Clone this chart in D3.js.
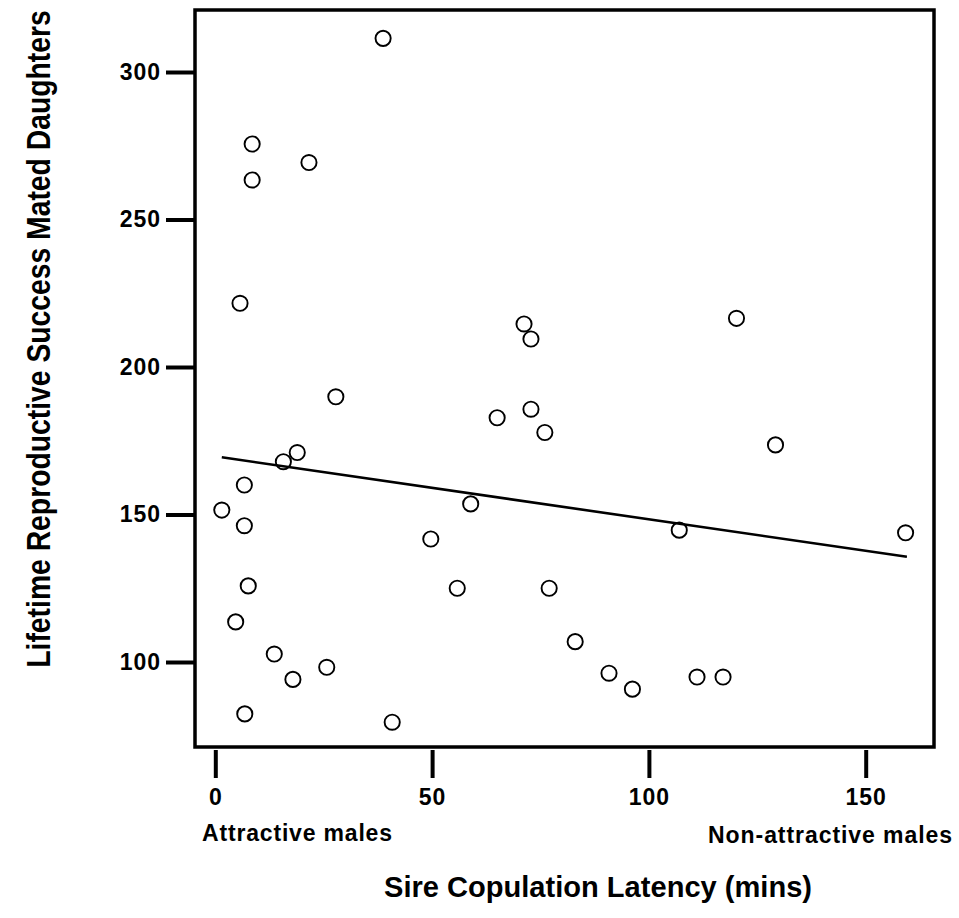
<!DOCTYPE html>
<html>
<head>
<meta charset="utf-8">
<script src="https://cdn.jsdelivr.net/npm/d3@7/dist/d3.min.js"></script>
<style>
  body { margin: 0; background: #fff; }
  svg { font-family: "Liberation Sans", Arial, sans-serif; font-weight: bold; }
</style>
</head>
<body>
<div id="scatter-vis"></div>
<script>
// sire copulation latency (mins), one entry per sire
var latency = [38.7, 8.5, 21.6, 8.5, 5.7, 27.8, 18.9, 15.7, 6.7, 1.5, 6.7, 7.6,
  4.7, 13.6, 25.7, 17.9, 6.8, 40.8, 71.2, 72.8, 65.0, 72.8, 76.0, 58.9,
  49.7, 55.8, 77.0, 83.0, 90.8, 96.2, 111.1, 117.1, 120.2, 129.2, 107.0, 159.2];

// lifetime reproductive success of mated daughters, same order
var daughters = [311.4, 275.6, 269.3, 263.4, 221.6, 189.9, 171.0, 167.9, 160.0, 151.5, 146.2, 125.8,
  113.6, 102.7, 98.2, 94.1, 82.4, 79.6, 214.6, 209.5, 182.8, 185.7, 177.8, 153.6,
  141.7, 125.0, 125.0, 106.9, 96.2, 90.8, 94.9, 94.9, 216.5, 173.6, 144.7, 143.8];

var xTicks = [0, 50, 100, 150];
var yTicks = [100, 150, 200, 250, 300];

// fitted line
var fitIntercept = 169.7;
var fitSlope = -0.2133;
var fitRange = [1.5, 159.5];

var groupLabels = ["Attractive males", "Non-attractive males"];
var xTitle = "Sire Copulation Latency (mins)";
var yTitle = "Lifetime Reproductive Success Mated Daughters";

ScatterVis = function(_parentElement) {
  this.parentElement = _parentElement;
  this.data = latency.map((d, i) => ({ x: d, y: daughters[i] }));
  this.initVis();
  this.updateVis();
};

ScatterVis.prototype.initVis = function() {
  var vis = this;

  vis.width = 959;
  vis.height = 918;
  vis.box = { left: 195, right: 934, top: 10, bottom: 747 };

  vis.svg = d3.select("#" + vis.parentElement).append("svg")
    .attr("width", vis.width)
    .attr("height", vis.height);

  vis.xScale = d3.scaleLinear()
    .domain([0, 150])
    .range([215.3, 865.7]);

  vis.yScale = d3.scaleLinear()
    .domain([100, 300])
    .range([662, 72]);

  vis.xAxis = d3.axisBottom()
    .scale(vis.xScale)
    .tickValues(xTicks)
    .tickSize(28)
    .tickPadding(11)
    .tickFormat((d) => "" + d);

  vis.yAxis = d3.axisLeft()
    .scale(vis.yScale)
    .tickValues(yTicks)
    .tickSize(29)
    .tickPadding(5)
    .tickFormat((d) => "" + d);

  // frame
  vis.svg.append("rect")
    .attr("x", vis.box.left)
    .attr("y", vis.box.top)
    .attr("width", vis.box.right - vis.box.left)
    .attr("height", vis.box.bottom - vis.box.top)
    .attr("fill", "none")
    .attr("stroke", "#000")
    .attr("stroke-width", 3.5);

  var gx = vis.svg.append("g")
    .attr("class", "x-axis axis")
    .attr("transform", "translate(0," + (vis.box.bottom + 3) + ")")
    .call(vis.xAxis);

  var gy = vis.svg.append("g")
    .attr("class", "y-axis axis")
    .attr("transform", "translate(" + vis.box.left + ",0)")
    .call(vis.yAxis);

  [gx, gy].forEach((g) => {
    g.select(".domain").remove();
    g.selectAll(".tick line")
      .attr("stroke", "#000")
      .attr("stroke-width", 4);
    g.selectAll(".tick text")
      .attr("fill", "#000")
      .style("font-size", "23px")
      .style("font-weight", "bold")
      .style("font-family", "'Liberation Sans', Arial, sans-serif")
      .style("letter-spacing", "1px");
  });

  // group labels under the x axis
  vis.svg.append("text")
    .text(groupLabels[0])
    .attr("x", 202)
    .attr("y", 841)
    .attr("textLength", 190)
    .attr("lengthAdjust", "spacing")
    .style("font-size", "23px");

  vis.svg.append("text")
    .text(groupLabels[1])
    .attr("x", 708)
    .attr("y", 843)
    .attr("textLength", 244)
    .attr("lengthAdjust", "spacing")
    .style("font-size", "23px");

  vis.svg.append("text")
    .text(xTitle)
    .attr("x", 384)
    .attr("y", 897)
    .attr("textLength", 428)
    .attr("lengthAdjust", "spacingAndGlyphs")
    .style("font-size", "29px");

  // y title: tall, narrow lettering as in the original
  vis.svg.append("text")
    .text(yTitle)
    .attr("transform", "translate(50,339) rotate(-90) scale(0.858,1)")
    .attr("text-anchor", "middle")
    .style("font-size", "33px");
};

ScatterVis.prototype.updateVis = function() {
  var vis = this;

  var fit = fitRange.map((d) => ({ x: d, y: fitIntercept + fitSlope * d }));

  vis.svg.append("path")
    .datum(fit)
    .attr("fill", "none")
    .attr("stroke", "#000")
    .attr("stroke-width", 2.6)
    .attr("d", d3.line()
      .x((d) => vis.xScale(d.x))
      .y((d) => vis.yScale(d.y))
    );

  var points = vis.svg.selectAll(".point")
    .data(vis.data);

  points.enter()
    .append("circle")
    .attr("class", "point")
    .merge(points)
    .attr("cx", (d) => vis.xScale(d.x))
    .attr("cy", (d) => vis.yScale(d.y))
    .attr("r", 7.6)
    .attr("fill", "none")
    .attr("stroke", "#000")
    .attr("stroke-width", 1.9);
  points.exit().remove();
};

var scatterVis = new ScatterVis("scatter-vis");
</script>
</body>
</html>
